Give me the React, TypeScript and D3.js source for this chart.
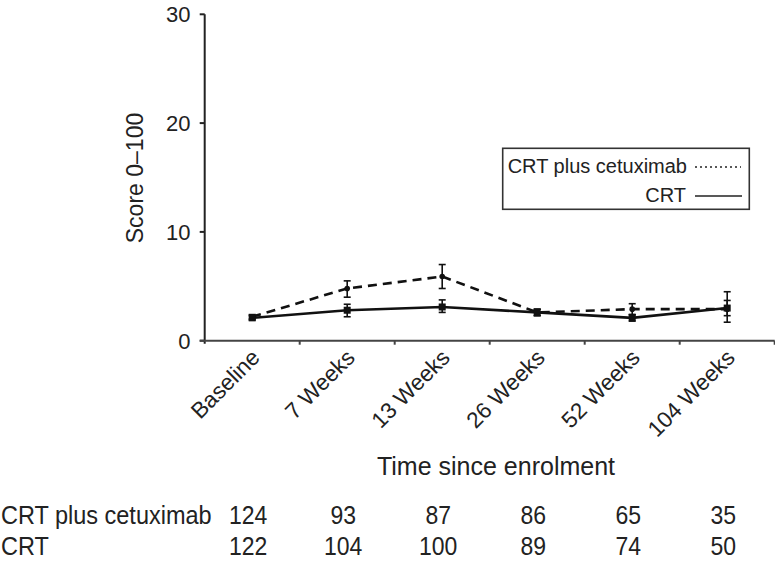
import React from "react";
import * as d3 from "d3";

const categories = ["Baseline", "7 Weeks", "13 Weeks", "26 Weeks", "52 Weeks", "104 Weeks"];
const cetuxMean = [2.2, 4.8, 5.9, 2.6, 2.9, 2.9];
const cetuxLow = [2.0, 4.0, 4.8, 2.3, 2.4, 1.7];
const cetuxHigh = [2.4, 5.5, 7.0, 2.9, 3.4, 4.5];
const crtMean = [2.1, 2.8, 3.1, 2.6, 2.1, 3.0];
const crtLow = [1.9, 2.2, 2.6, 2.3, 1.8, 2.3];
const crtHigh = [2.3, 3.35, 3.75, 2.9, 2.4, 3.7];
const yTicks = [0, 10, 20, 30];
const atRiskCetux = [124, 93, 87, 86, 65, 35];
const atRiskCrt = [122, 104, 100, 89, 74, 50];
const seriesNames = ["CRT plus cetuximab", "CRT"];

const FONT = "'Liberation Sans', Arial, Helvetica, sans-serif";

export default function App() {
  const x = d3.scaleBand<string>().domain(categories).range([204.7, 774.7]).padding(0);
  const y = d3.scaleLinear().domain([0, 30]).range([340.7, 14.3]);
  const cx = (c: string) => (x(c) as number) + x.bandwidth() / 2;
  const line = d3
    .line<number>()
    .x((_, i) => cx(categories[i]))
    .y((d) => y(d));

  const series = [
    { mean: cetuxMean, low: cetuxLow, high: cetuxHigh, dash: "9,6" },
    { mean: crtMean, low: crtLow, high: crtHigh, dash: undefined },
  ];

  const x0 = x.range()[0];
  const x1 = x.range()[1];
  const boundaries = categories.map((c) => (x(c) as number) + x.bandwidth());

  return (
    <svg
      width={775}
      height={564}
      style={{ position: "absolute", left: 0, top: 0, background: "#fff" }}
      fontFamily={FONT}
    >
      {/* y axis */}
      <line x1={x0} x2={x0} y1={y(30)} y2={y(0) + 3} stroke="#222" strokeWidth={2} />
      {yTicks.map((t) => (
        <g key={t}>
          <line x1={x0 - 5} x2={x0} y1={y(t)} y2={y(t)} stroke="#222" strokeWidth={2} />
          <text x={190.5} y={y(t)} dy="0.36em" textAnchor="end" fontSize={22} fill="#222">
            {t}
          </text>
        </g>
      ))}
      <text
        transform={`translate(143,178) rotate(-90)`}
        textAnchor="middle"
        fontSize={23}
        fill="#222"
      >
        Score 0–100
      </text>

      {/* x axis */}
      <line x1={x0 - 5} x2={x1} y1={y(0)} y2={y(0)} stroke="#444" strokeWidth={2} />
      {boundaries.map((b, i) => (
        <line key={i} x1={b} x2={b} y1={y(0)} y2={y(0) + 4} stroke="#444" strokeWidth={2} />
      ))}
      {categories.map((c) => (
        <text
          key={c}
          transform={`translate(${cx(c) + 9},${359}) rotate(-45)`}
          textAnchor="end"
          fontSize={22.5}
          fill="#222"
        >
          {c}
        </text>
      ))}
      <text x={496} y={475} textAnchor="middle" fontSize={25} fill="#222">
        Time since enrolment
      </text>

      {/* series */}
      {series.map((s, si) => (
        <g key={si}>
          <path
            d={line(s.mean) as string}
            fill="none"
            stroke="#111"
            strokeWidth={2.6}
            strokeDasharray={s.dash}
          />
          {s.mean.map((m, i) => {
            const px = cx(categories[i]);
            return (
              <g key={i}>
                <line x1={px} x2={px} y1={y(s.low[i])} y2={y(s.high[i])} stroke="#111" strokeWidth={1.6} />
                <line x1={px - 3.5} x2={px + 3.5} y1={y(s.low[i])} y2={y(s.low[i])} stroke="#111" strokeWidth={1.6} />
                <line x1={px - 3.5} x2={px + 3.5} y1={y(s.high[i])} y2={y(s.high[i])} stroke="#111" strokeWidth={1.6} />
                {si === 1 ? (
                  <rect x={px - 3.5} y={y(m) - 3.5} width={7} height={7} fill="#111" />
                ) : (
                  <circle cx={px} cy={y(m)} r={2.8} fill="#111" />
                )}
              </g>
            );
          })}
        </g>
      ))}

      {/* legend */}
      <rect x={502.7} y={148.3} width={246.6} height={61} fill="#fff" stroke="#333" strokeWidth={1.6} />
      <text x={687} y={173} textAnchor="end" fontSize={20} fill="#222">
        {seriesNames[0]}
      </text>
      <line x1={695} x2={741} y1={167} y2={167} stroke="#222" strokeWidth={1.6} strokeDasharray="2,3" />
      <text x={686} y={202} textAnchor="end" fontSize={20} fill="#222">
        {seriesNames[1]}
      </text>
      <line x1={695} x2={742} y1={196} y2={196} stroke="#222" strokeWidth={1.6} />

      {/* numbers at risk */}
      {[atRiskCetux, atRiskCrt].map((row, ri) => {
        const by = ri === 0 ? 524 : 555;
        return (
          <g key={ri} fontSize={25} fill="#222">
            <text transform={`translate(1,${by}) scale(0.94,1)`}>{seriesNames[ri]}</text>
            {row.map((v, i) => (
              <text
                key={i}
                transform={`translate(${cx(categories[i]) - 4},${by}) scale(0.92,1)`}
                textAnchor="middle"
              >
                {v}
              </text>
            ))}
          </g>
        );
      })}
    </svg>
  );
}
